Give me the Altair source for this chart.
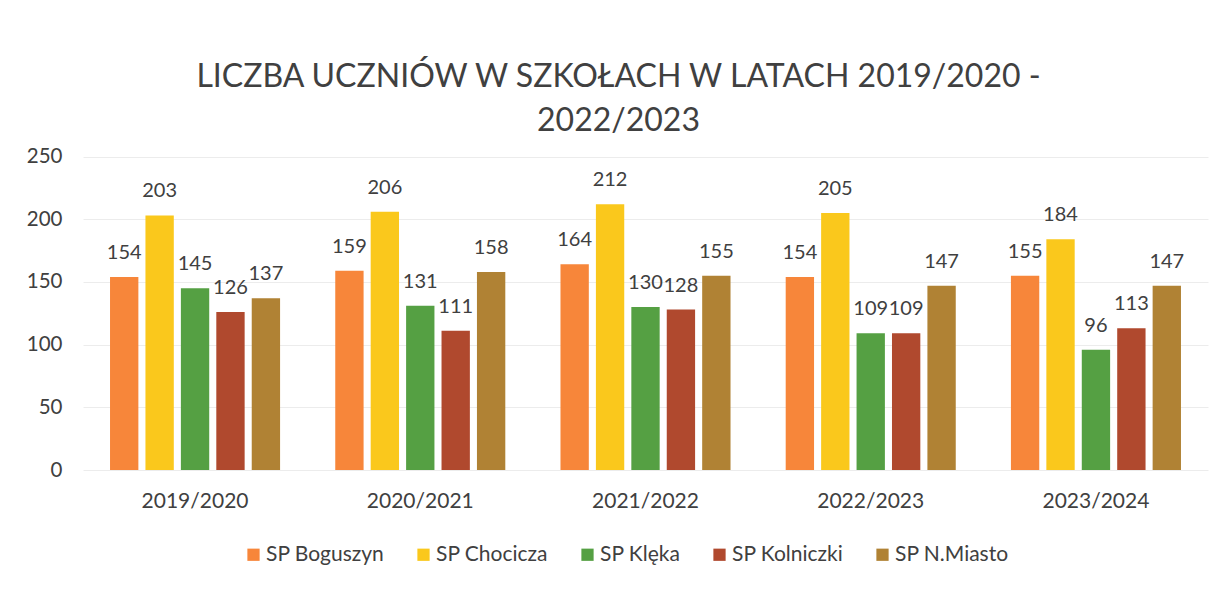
import altair as alt
import pandas as pd

years = ["2019/2020", "2020/2021", "2021/2022", "2022/2023", "2023/2024"]
schools = ["SP Boguszyn", "SP Chocicza", "SP Klęka", "SP Kolniczki", "SP N.Miasto"]
boguszyn = [154, 159, 164, 154, 155]
chocicza = [203, 206, 212, 205, 184]
kleka = [145, 131, 130, 109, 96]
kolniczki = [126, 111, 128, 109, 113]
nmiasto = [137, 158, 155, 147, 147]
colors = ["#F7863A", "#FAC81C", "#55A043", "#B0492E", "#B08234"]

series = [boguszyn, chocicza, kleka, kolniczki, nmiasto]
rows = []
for s, vals in zip(schools, series):
    for y, v in zip(years, vals):
        rows.append({"rok": y, "szkola": s, "liczba": v})
df = pd.DataFrame(rows)

FONT = "Lato"

base = alt.Chart(df).encode(
    x=alt.X("rok:N", sort=years, title=None,
            scale=alt.Scale(paddingInner=0.245, paddingOuter=0.12),
            axis=alt.Axis(labelAngle=0, labelFontSize=21, labelColor="#404040",
                          labelFont=FONT, domain=False, ticks=False, labelPadding=20)),
    xOffset=alt.XOffset("szkola:N", sort=schools, scale=alt.Scale(paddingInner=0.2)),
)

bars = base.mark_bar().encode(
    y=alt.Y("liczba:Q", title=None,
            scale=alt.Scale(domain=[0, 250]),
            axis=alt.Axis(values=[0, 50, 100, 150, 200, 250], labelFontSize=20.5,
                          labelColor="#404040", labelFont=FONT, domain=False,
                          ticks=False, labelPadding=21, gridColor="#ececec")),
    color=alt.Color("szkola:N", sort=schools,
                    scale=alt.Scale(domain=schools, range=colors),
                    legend=alt.Legend(title=None, orient="none", direction="horizontal",
                                      legendX=160, legendY=400, symbolType="square",
                                      symbolSize=150, symbolStrokeWidth=0,
                                      labelFontSize=21, labelFont=FONT, labelOffset=2,
                                      labelColor="#404040", columnPadding=28)),
)

labels = base.mark_text(dy=-24, fontSize=20, font=FONT, color="#404040").encode(
    y="liczba:Q",
    text="liczba:Q",
)

chart = (bars + labels).properties(
    width=1125, height=326,
    autosize=alt.AutoSizeParams(type="none"),
    padding={"left": 75, "top": 136, "right": 5, "bottom": 100},
    title=alt.TitleParams(
        ["LICZBA UCZNIÓW W SZKOŁACH W LATACH 2019/2020 -", "2022/2023"],
        fontSize=32, font=FONT, fontWeight="normal", color="#404040",
        anchor="middle", offset=6, lineHeight=44, dx=-27,
    ),
).configure_view(stroke=None)

chart.save("out.html", embed_options={"renderer": "svg", "actions": False})
